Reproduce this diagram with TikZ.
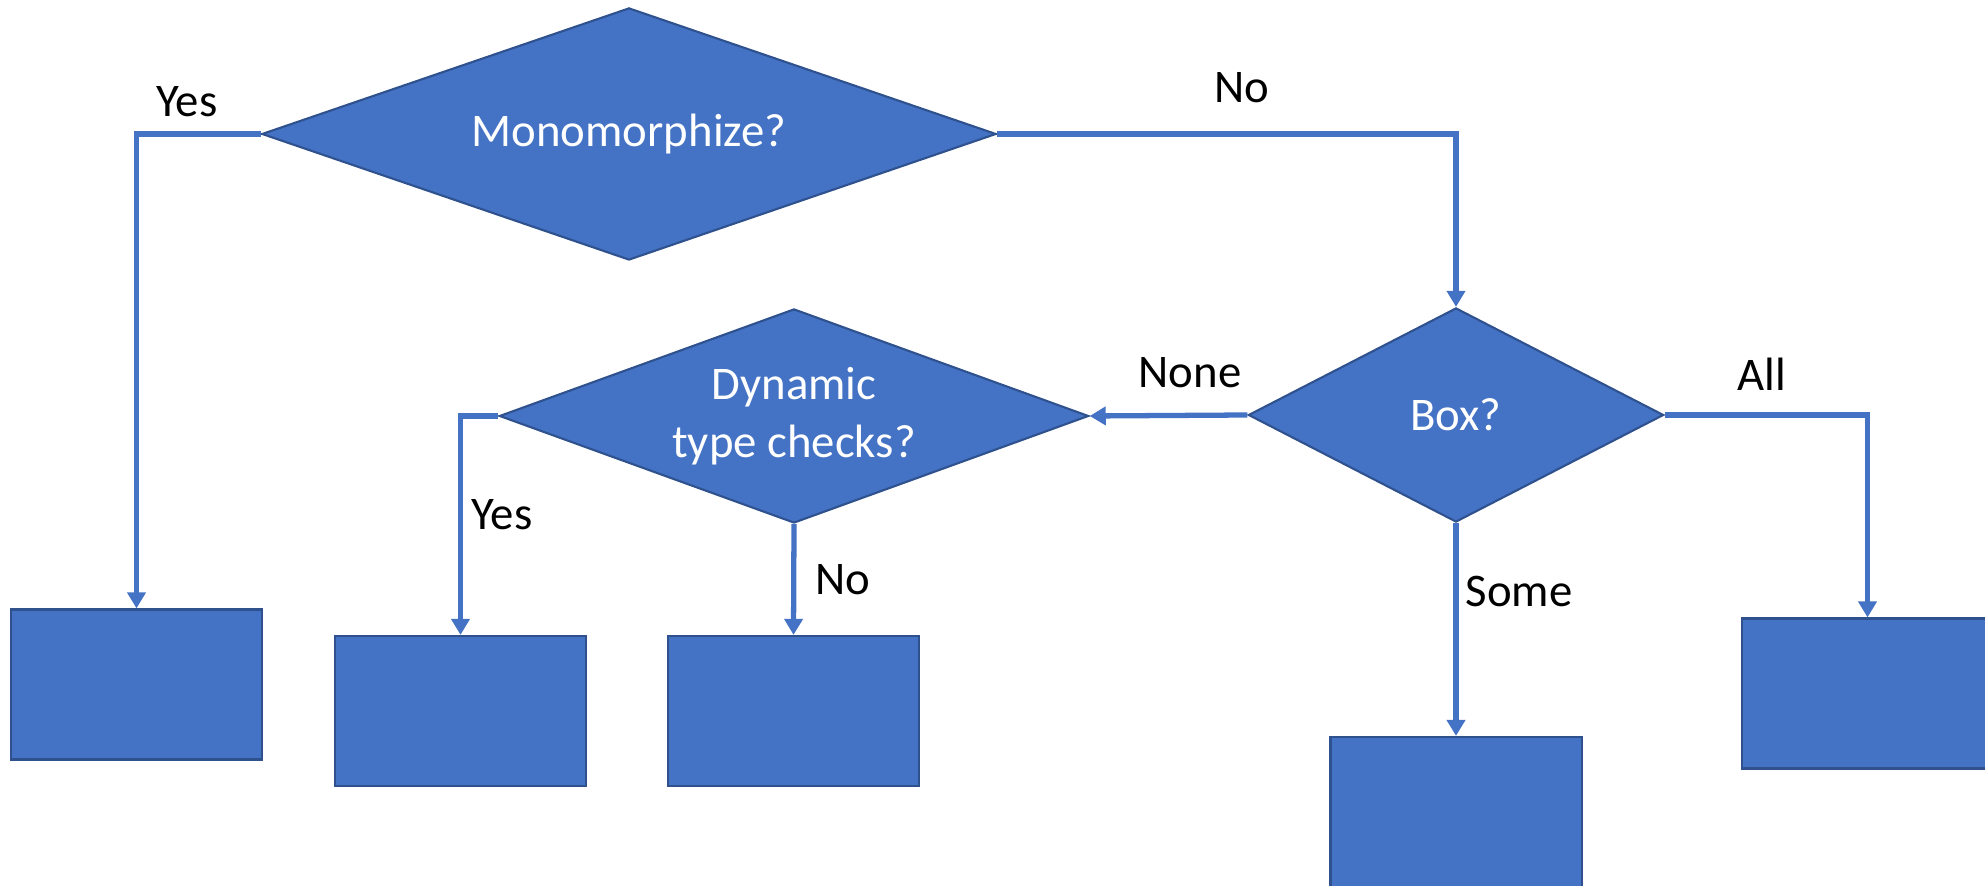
\documentclass[tikz,border=0pt]{standalone}
\usepackage{fontspec}
\setmainfont{Carlito}
\usetikzlibrary{shapes.geometric,arrows.meta}
\definecolor{flowblue}{HTML}{4472C4}
\definecolor{flowedge}{HTML}{2F528F}
\begin{document}
\fontsize{13.3}{16.6}\selectfont
\begin{tikzpicture}[x=0.01cm,y=-0.01cm,
  decision/.style={diamond,fill=flowblue,draw=flowedge,line width=0.6pt,inner sep=0pt,text=white,align=center},
  outcome/.style={rectangle,fill=flowblue,draw=flowedge,line width=0.6pt,minimum width=2.51cm,minimum height=1.5cm},
  branch/.style={draw=flowblue,line width=1.5pt,-{Triangle[width=0.18cm,length=0.16cm]}},
  answer/.style={anchor=base,inner sep=0pt}]
\useasboundingbox (0,0) rectangle (1985,886);
\node[decision,aspect=2.91,minimum width=7.34cm,minimum height=2.52cm] (mono) at (629,134) {Monomorphize?};
\node[decision,aspect=2.75,minimum width=5.89cm,minimum height=2.14cm] (dyn) at (794,416) {Dynamic\\type checks?};
\node[decision,aspect=1.94,minimum width=4.15cm,minimum height=2.14cm] (box) at (1456,415) {Box?};
\node[outcome] (mono yes) at (136.5,684.5) {};
\node[outcome] (dyn yes) at (460.5,711) {};
\node[outcome] (dyn no) at (793.5,711) {};
\node[outcome] (box some) at (1456,812) {};
\node[outcome] (box all) at (1867.5,693.5) {};
\draw[branch] (mono.west) -| (mono yes.north);
\draw[branch] (mono.east) -| (box.north);
\draw[branch] (box.west) -- (dyn.east);
\draw[branch] (dyn.west) -| (dyn yes.north);
\draw[branch] (dyn.south) -- (dyn no.north);
\draw[branch] (box.south) -- (box some.north);
\draw[branch] (box.east) -| (box all.north);
\node[answer] (lbl mono yes) at (187,117) {Yes};
\node[answer] (lbl mono no) at (1242,103) {No};
\node[answer] (lbl box none) at (1190,388) {None};
\node[answer] (lbl box all) at (1762,391) {All};
\node[answer] (lbl dyn yes) at (502,530) {Yes};
\node[answer] (lbl dyn no) at (843,595) {No};
\node[answer] (lbl box some) at (1519,607) {Some};
\end{tikzpicture}
\end{document}
